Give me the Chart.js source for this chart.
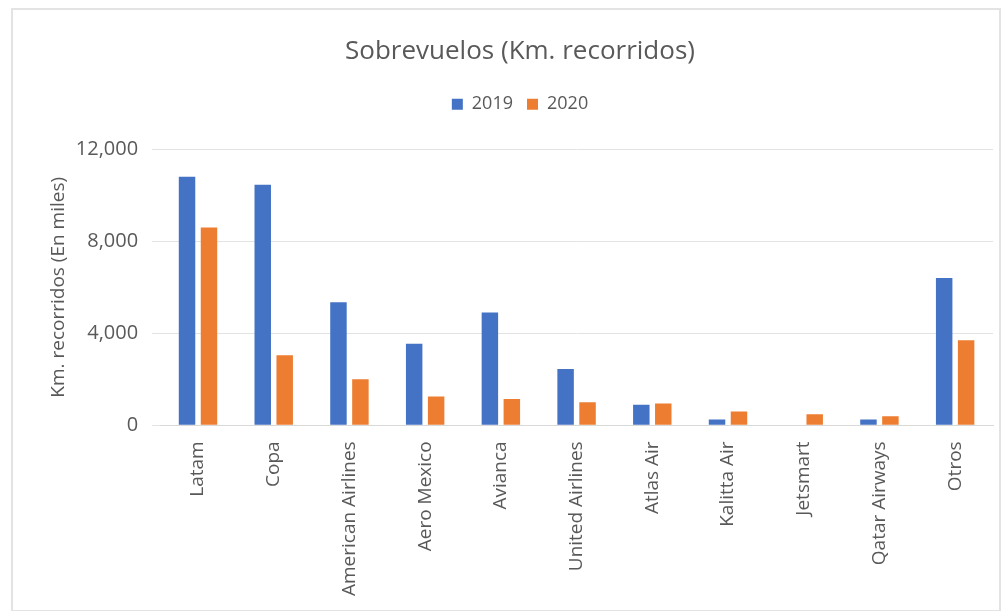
<!DOCTYPE html>
<html>
<head>
<meta charset="utf-8">
<script src="https://cdn.jsdelivr.net/npm/chart.js@4.4.1/dist/chart.umd.min.js"></script>
<style>
  body { margin:0; background:#fff; }
  #box { position:absolute; left:11px; top:8px; width:986px; height:600px; border:2px solid #e3e3e3; }
</style>
</head>
<body>
<div id="box"><canvas id="myChart"></canvas></div>
<script>
var airlines = ["Latam","Copa","American Airlines","Aero Mexico","Avianca","United Airlines","Atlas Air","Kalitta Air","Jetsmart","Qatar Airways","Otros"]
var km2019 = [10800,10450,5350,3550,4900,2450,900,250,0,250,6400]
var km2020 = [8600,3050,2000,1250,1150,1000,950,600,480,400,3700]
var yTicks = [0,4000,8000,12000]

var grey = "#595959"
var font = "'Open Sans', sans-serif"

// extra room under the legend, like the gap in the original
var legendGap = {
    id:'legendGap',
    beforeInit:function(chart){
        var fit = chart.legend.fit
        chart.legend.fit = function(){
            fit.bind(chart.legend)()
            this.height += 26
        }
    }
}

var ctx = document.getElementById("myChart").getContext('2d')
var chart = new Chart(ctx,{
    type:'bar',
    data:{
        labels:airlines,
        datasets:[
            { label:"2019", data:km2019, backgroundColor:"#4472C4" },
            { label:"2020", data:km2020, backgroundColor:"#ED7D31" }
        ]
    },
    options:{
        responsive:true,
        maintainAspectRatio:false,
        animation:false,
        categoryPercentage:0.58,
        barPercentage:0.75,
        layout:{ padding:{ left:34, right:6, top:0, bottom:6 } },
        plugins:{
            title:{ display:true, text:"Sobrevuelos (Km. recorridos)", color:grey,
                    font:{ family:font, size:26, weight:'normal' }, padding:{ top:26, bottom:14 } },
            legend:{ labels:{ color:grey, boxWidth:11, boxHeight:11, padding:14, font:{ family:font, size:18 } } },
            tooltip:{ enabled:false }
        },
        scales:{
            x:{
                grid:{ display:false },
                border:{ color:"#d9d9d9" },
                ticks:{ color:grey, minRotation:90, maxRotation:90, font:{ family:font, size:19 }, padding:8 }
            },
            y:{
                min:0, max:12000,
                afterBuildTicks:function(axis){ axis.ticks = yTicks.map(function(v){ return {value:v} }) },
                grid:{ color:"#e3e3e3" },
                border:{ display:false },
                ticks:{ color:grey, font:{ family:font, size:20 }, padding:14,
                        callback:function(v){ return v.toLocaleString('en-US') } },
                title:{ display:true, text:"Km. recorridos (En miles)", color:grey,
                        font:{ family:font, size:19 }, padding:{ top:0, bottom:-8 } }
            }
        }
    },
    plugins:[legendGap]
})
</script>
</body>
</html>
